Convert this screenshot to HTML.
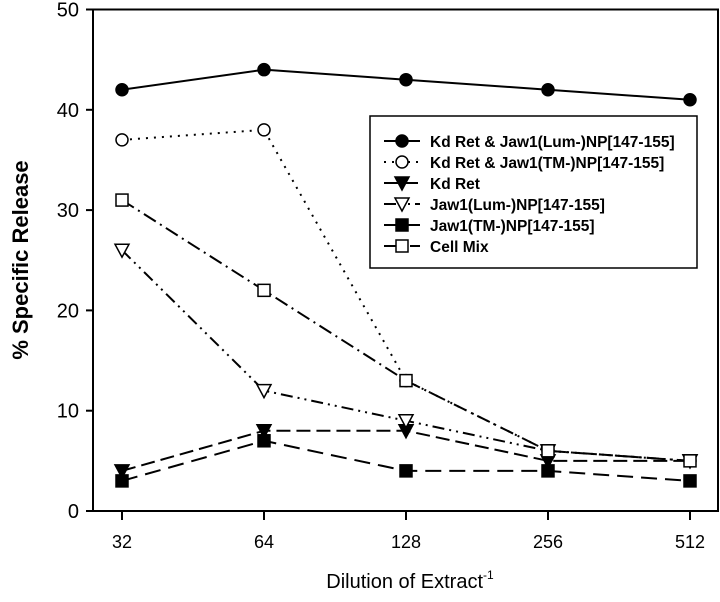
<!DOCTYPE html>
<html><head><meta charset="utf-8"><style>
body{margin:0;background:#fff}
svg text{font-family:"Liberation Sans",Arial,sans-serif;fill:#000}
</style></head><body>
<svg id="c" width="720" height="597" xmlns="http://www.w3.org/2000/svg">
<rect x="93" y="9.5" width="625" height="501.5" fill="none" stroke="#000" stroke-width="2"/>
<text x="22" y="260" transform="rotate(-90 22 260)" text-anchor="middle" font-size="22" font-weight="bold" dominant-baseline="middle">% Specific Release</text>
<text x="410" y="588" text-anchor="middle" font-size="20">Dilution of Extract<tspan font-size="12" dy="-9">-1</tspan></text>
<g id="ax"></g>
<g id="series"></g>
<g id="legend"></g>
</svg>
<script>
const categories=["32","64","128","256","512"];
const yTicks=[0,10,20,30,40,50];
const s1=[42,44,43,42,41];
const s2=[37,38,13,6,5];
const s3=[4,8,8,5,5];
const s4=[26,12,9,6,5];
const s5=[3,7,4,4,3];
const s6=[31,22,13,6,5];
const names=["Kd Ret & Jaw1(Lum-)NP[147-155]","Kd Ret & Jaw1(TM-)NP[147-155]","Kd Ret","Jaw1(Lum-)NP[147-155]","Jaw1(TM-)NP[147-155]","Cell Mix"];
const NS="http://www.w3.org/2000/svg";
function xs(i){return 122+i*142;}
function ys(v){return 511-v*10.03;}
function mk(t,a,p){const e=document.createElementNS(NS,t);for(const k in a)e.setAttribute(k,a[k]);p.appendChild(e);return e;}
const ax=document.getElementById('ax');
yTicks.forEach(v=>{
  const l=mk('line',{x1:86,x2:93,y1:ys(v),y2:ys(v),stroke:'#000','stroke-width':2},ax);
  
  
  const t=mk('text',{x:79,y:ys(v)+7,'text-anchor':'end','font-size':20},ax);t.textContent=v;
  
  
});
categories.forEach((c,i)=>{
  const l=mk('line',{x1:xs(i),x2:xs(i),y1:511,y2:520,stroke:'#000','stroke-width':2},ax);
  
  
  const t=mk('text',{x:xs(i),y:548,'text-anchor':'middle','font-size':18},ax);t.textContent=c;
  
  
});
const styles=[
 {d:'',m:'circle',f:'#000'},
 {d:'2 6',m:'circle',f:'#fff'},
 {d:'14 6',m:'tri',f:'#000'},
 {d:'12 5 2 5 2 5',m:'tri',f:'#fff'},
 {d:'16 8',m:'square',f:'#000'},
 {d:'14 5 2 5',m:'square',f:'#fff'}];
function marker(type,x,y,fill,g){
  let e;
  if(type==='circle')e=mk('circle',{cx:x,cy:y,r:6,fill:fill,stroke:'#000','stroke-width':1.5},g);
  else if(type==='tri')e=mk('polygon',{points:`${x-7},${y-6} ${x+7},${y-6} ${x},${y+7}`,fill:fill,stroke:'#000','stroke-width':1.5},g);
  else e=mk('rect',{x:x-6,y:y-6,width:12,height:12,fill:fill,stroke:'#000','stroke-width':1.5},g);
  return e;
}
const sg=document.getElementById('series');
[s1,s2,s3,s4,s5,s6].forEach((s,k)=>{
  const st=styles[k];
  const g=mk('g',{},sg);
  
  
  const pl=mk('polyline',{points:s.map((v,i)=>xs(i)+','+ys(v)).join(' '),fill:'none',stroke:'#000','stroke-width':2,'stroke-dasharray':st.d},g);
  
  
  s.forEach((v,i)=>{const m=marker(st.m,xs(i),ys(v),st.f,g);
    
    });
});
const lg=document.getElementById('legend');


mk('rect',{x:370,y:116,width:327,height:152,fill:'#fff',stroke:'#000','stroke-width':1.5},lg);
names.forEach((n,k)=>{
  const st=styles[k];const y=141+k*21;
  const g=mk('g',{},lg);
  
  
  mk('line',{x1:384,x2:420,y1:y,y2:y,stroke:'#000','stroke-width':2,'stroke-dasharray':st.d},g);
  marker(st.m,402,y,st.f,g);
  const t=mk('text',{x:430,y:y+6,'font-size':15.5,'font-weight':'bold'},g);t.textContent=n;
});
</script>
</body></html>
